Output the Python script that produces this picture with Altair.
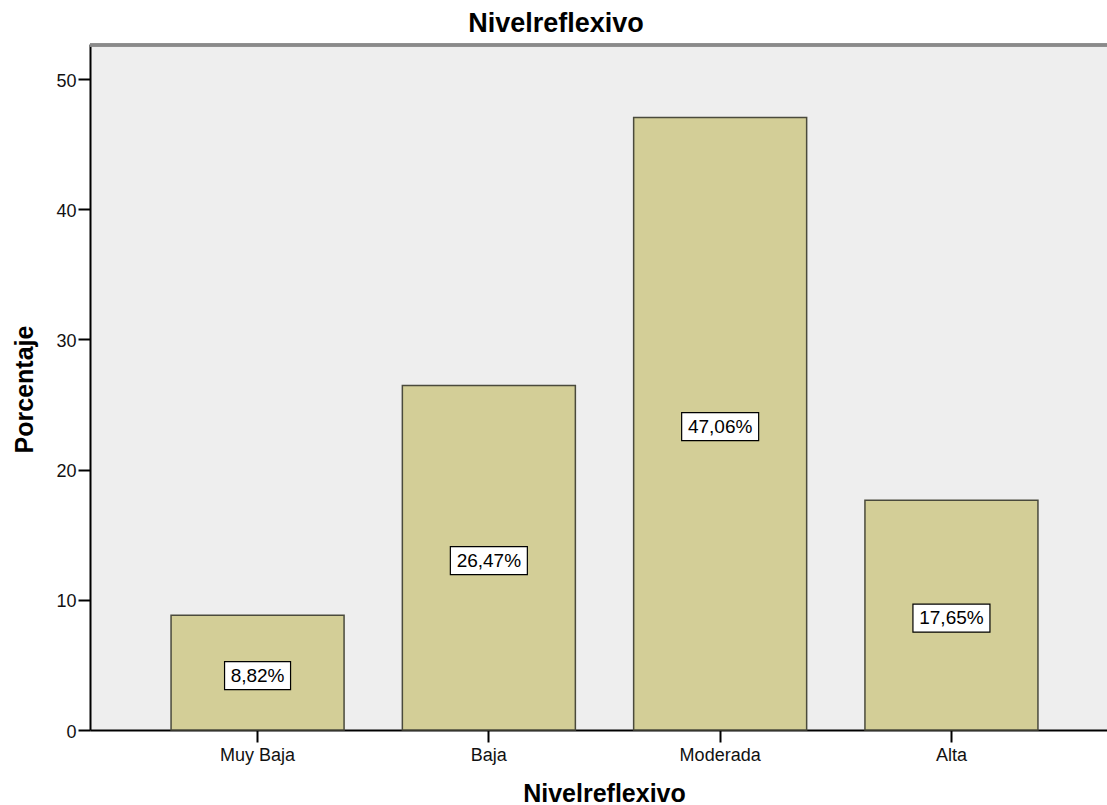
import altair as alt
import pandas as pd

categories = ["Muy Baja", "Baja", "Moderada", "Alta"]
percentages = [8.82, 26.47, 47.06, 17.65]
labels = ["8,82%", "26,47%", "47,06%", "17,65%"]
y_ticks = [0, 10, 20, 30, 40, 50]
chart_title = ["Nivelreflexivo"]

df = pd.DataFrame({"cat": categories, "value": percentages, "label": labels})
title_df = pd.DataFrame({"t": chart_title})

FONT = "Liberation Sans"

x_axis = alt.Axis(
    title="Nivelreflexivo",
    titleFont=FONT, titleFontSize=25, titleFontWeight="bold", titleColor="#000",
    titleX=514, titleY=71, titleAlign="center", titleBaseline="alphabetic",
    labelFont=FONT, labelFontSize=18, labelColor="#111", labelAngle=0,
    labelBaseline="alphabetic", labelPadding=18,
    tickSize=12, tickColor="#000", tickWidth=2,
    domainColor="#000", domainWidth=2,
)
y_axis = alt.Axis(
    title="Porcentaje", values=y_ticks, grid=False,
    titleFont=FONT, titleFontSize=25, titleFontWeight="bold", titleColor="#000",
    titleX=-58, titleY=345, titleAngle=-90, titleAlign="center",
    titleBaseline="alphabetic",
    labelFont=FONT, labelFontSize=18, labelColor="#111", labelPadding=2,
    labelOffset=2,
    tickSize=12, tickColor="#000", tickWidth=2,
    domainColor="#000", domainWidth=2,
)
x_scale = alt.Scale(paddingInner=0.252, paddingOuter=0.3245, align=0.54)
y_scale = alt.Scale(domain=[0, 52.7], nice=False)

bars = alt.Chart(df).mark_bar(
    fill="#d3ce97", stroke="#4a4a3c", strokeWidth=1.5
).encode(
    x=alt.X("cat:N", sort=categories, scale=x_scale, axis=x_axis),
    y=alt.Y("value:Q", scale=y_scale, axis=y_axis),
)

base = alt.Chart(df).transform_calculate(
    mid="datum.value / 2",
    bw="11 * length(datum.label) + 11",
    sz="datum.bw * datum.bw",
    hh="14 / (datum.bw / 2)",
    shp="'M-1,-' + datum.hh + 'L1,-' + datum.hh + 'L1,' + datum.hh + 'L-1,' + datum.hh + 'Z'",
)

boxes = base.mark_point(
    filled=True, fill="white", stroke="black", strokeWidth=1.2,
    opacity=1, fillOpacity=1, strokeOpacity=1, yOffset=3,
).encode(
    x=alt.X("cat:N", sort=categories, scale=x_scale, axis=x_axis),
    y=alt.Y("mid:Q", scale=y_scale, axis=y_axis),
    shape=alt.Shape("shp:N", scale=None),
    size=alt.Size("sz:Q", scale=None),
)

texts = base.mark_text(
    font=FONT, fontSize=19, color="#000", baseline="middle", align="center", yOffset=3,
).encode(
    x=alt.X("cat:N", sort=categories, scale=x_scale, axis=x_axis),
    y=alt.Y("mid:Q", scale=y_scale, axis=y_axis),
    text="label:N",
)

top_border = alt.Chart(df).mark_rule(color="#8a8a8a", strokeWidth=3).encode(
    y=alt.value(1), x=alt.value(0), x2=alt.value(1017)
)

title_mark = alt.Chart(title_df).mark_text(
    font=FONT, fontSize=27, fontWeight="bold", color="#000",
    align="center", baseline="alphabetic",
).encode(
    x=alt.value(466), y=alt.value(-12), text="t:N"
)

chart = alt.layer(bars, boxes, texts, top_border, title_mark).properties(
    width=1017,
    height=686,
    padding={"left": 90, "top": 44, "right": 0, "bottom": 75},
    autosize=alt.AutoSizeParams(type="none"),
    background="white",
).configure_view(stroke=None, fill="#eeeeee")

chart.save("out.html", embed_options={"renderer": "svg", "actions": False})
